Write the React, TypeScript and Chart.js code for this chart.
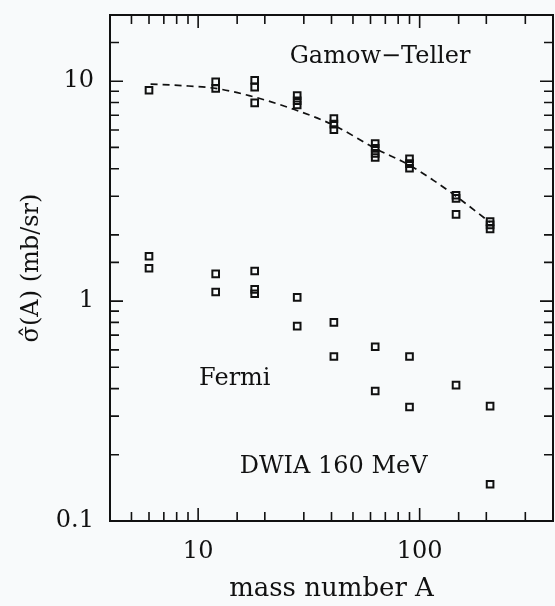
import React, { useEffect, useRef } from "react";
import { Chart, registerables } from "chart.js";

Chart.register(...registerables);

// Gamow-Teller cross sections
const gtMass = [6, 12, 12, 18, 18, 18, 28, 28, 28, 41, 41, 41, 63, 63, 63, 63, 90, 90, 90, 146, 146, 146, 208, 208, 208];
const gtSigma = [9.1, 9.93, 9.27, 10.1, 9.4, 7.97, 8.6, 8.15, 7.8, 6.76, 6.38, 6.02, 5.2, 4.95, 4.7, 4.5, 4.44, 4.22, 4.02, 3.03, 2.93, 2.48, 2.3, 2.22, 2.13];

// Fermi cross sections
const fermiMass = [6, 6, 12, 12, 18, 18, 18, 28, 28, 41, 41, 63, 63, 90, 90, 146, 208, 208];
const fermiSigma = [1.6, 1.41, 1.33, 1.1, 1.37, 1.13, 1.08, 1.04, 0.77, 0.8, 0.56, 0.62, 0.39, 0.56, 0.33, 0.415, 0.333, 0.147];

// DWIA curve (dashed)
const fitMass = [6.1, 8.5, 12, 17, 27, 41, 63, 90, 115, 144, 208];
const fitSigma = [9.7, 9.55, 9.27, 8.6, 7.45, 6.3, 4.95, 4.15, 3.55, 3.03, 2.28];

const xTickLabels = [10, 100];
const yTickLabels = [0.1, 1, 10];

const annotations = [
  { text: "Gamow\u2212Teller", x: 25.9, y: 12.85 },
  { text: "Fermi", x: 10.1, y: 0.442 },
  { text: "DWIA 160 MeV", x: 15.4, y: 0.176 },
];

const FONT = '"DejaVu Serif", serif';
const FS = 24;
const BG = "#f8fafb";
const INK = "#111";

const isDecade = (v: number) => Math.abs(Math.log10(v) - Math.round(Math.log10(v))) < 1e-6;

const framePlugin = {
  id: "framePlugin",
  beforeDraw(chart: any) {
    const ctx = chart.ctx;
    ctx.save();
    ctx.fillStyle = BG;
    ctx.fillRect(0, 0, chart.width, chart.height);
    ctx.restore();
  },
  afterDraw(chart: any) {
    const ctx = chart.ctx;
    const { left, right, top, bottom } = chart.chartArea;
    const xs = chart.scales.x;
    const ys = chart.scales.y;
    ctx.save();
    ctx.strokeStyle = INK;
    ctx.lineWidth = 2;
    ctx.strokeRect(left, top, right - left, bottom - top);
    ctx.lineWidth = 1.6;
    ctx.beginPath();
    for (const t of xs.ticks) {
      const v = t.value;
      if (v <= xs.min || v >= xs.max) continue;
      const px = xs.getPixelForValue(v);
      const len = isDecade(v) ? 13 : 9;
      ctx.moveTo(px, bottom);
      ctx.lineTo(px, bottom - len);
      ctx.moveTo(px, top);
      ctx.lineTo(px, top + len);
    }
    for (const t of ys.ticks) {
      const v = t.value;
      if (v <= ys.min || v >= ys.max) continue;
      const py = ys.getPixelForValue(v);
      const len = isDecade(v) ? 13 : 9;
      ctx.moveTo(left, py);
      ctx.lineTo(left + len, py);
      ctx.moveTo(right, py);
      ctx.lineTo(right - len, py);
    }
    ctx.stroke();

    ctx.fillStyle = INK;
    ctx.font = `${FS}px ${FONT}`;
    ctx.textBaseline = "middle";
    ctx.textAlign = "left";
    for (const a of annotations) {
      ctx.fillText(a.text, xs.getPixelForValue(a.x), ys.getPixelForValue(a.y));
    }
    // axis titles
    ctx.textAlign = "center";
    ctx.font = `26px ${FONT}`;
    ctx.fillText("mass number A", (left + right) / 2, 589);
    ctx.font = `${FS}px ${FONT}`;
    ctx.translate(32, (top + bottom) / 2);
    ctx.rotate(-Math.PI / 2);
    ctx.fillText("\u03C3\u0302(A) (mb/sr)", 0, 0);
    ctx.restore();
  },
};

export default function App() {
  const ref = useRef<HTMLCanvasElement | null>(null);
  useEffect(() => {
    if (!ref.current) return;
    const chart = new Chart(ref.current, {
      type: "scatter",
      data: {
        datasets: [
          {
            type: "line",
            label: "DWIA",
            data: fitMass.map((m, i) => ({ x: m, y: fitSigma[i] })),
            borderColor: INK,
            borderWidth: 1.7,
            borderDash: [7, 5],
            pointRadius: 0,
            fill: false,
            cubicInterpolationMode: "monotone",
          } as any,
          {
            label: "Gamow-Teller",
            data: gtMass.map((m, i) => ({ x: m, y: gtSigma[i] })),
            pointStyle: "rect",
            pointRadius: 4.7,
            borderColor: INK,
            borderWidth: 2,
            backgroundColor: "rgba(0,0,0,0)",
          },
          {
            label: "Fermi",
            data: fermiMass.map((m, i) => ({ x: m, y: fermiSigma[i] })),
            pointStyle: "rect",
            pointRadius: 4.7,
            borderColor: INK,
            borderWidth: 2,
            backgroundColor: "rgba(0,0,0,0)",
          },
        ],
      },
      options: {
        responsive: false,
        animation: false,
        layout: { autoPadding: false, padding: { left: 0, right: 2, top: 15, bottom: 0 } },
        plugins: { legend: { display: false }, tooltip: { enabled: false } },
        scales: {
          x: {
            type: "logarithmic",
            position: "bottom",
            min: 4,
            max: 400,
            grid: { display: false, drawTicks: false },
            border: { display: false },
            afterFit: (s: any) => {
              s.height = 85;
              s.paddingLeft = 0;
              s.paddingRight = 0;
            },
            ticks: {
              autoSkip: false,
              maxRotation: 0,
              padding: 16,
              color: INK,
              font: { family: FONT, size: FS },
              callback: (v: any) => {
                const n = Number(v);
                return xTickLabels.some((t) => Math.abs(t - n) < 1e-6) ? String(n) : "";
              },
            },
          },
          y: {
            type: "logarithmic",
            min: 0.1,
            max: 20,
            grid: { display: false, drawTicks: false },
            border: { display: false },
            afterFit: (s: any) => {
              s.width = 110;
              s.paddingTop = 0;
              s.paddingBottom = 0;
            },
            ticks: {
              autoSkip: false,
              padding: 16,
              color: INK,
              font: { family: FONT, size: FS },
              callback: (v: any) => {
                const n = Number(v);
                return yTickLabels.some((t) => Math.abs(t - n) < 1e-9) ? String(n) : "";
              },
            },
          },
        },
      },
      plugins: [framePlugin],
    });
    return () => chart.destroy();
  }, []);
  return (
    <div style={{ position: "fixed", left: 0, top: 0, width: 555, height: 606, background: BG }}>
      <canvas ref={ref} width={555} height={606} style={{ display: "block" }} />
    </div>
  );
}
